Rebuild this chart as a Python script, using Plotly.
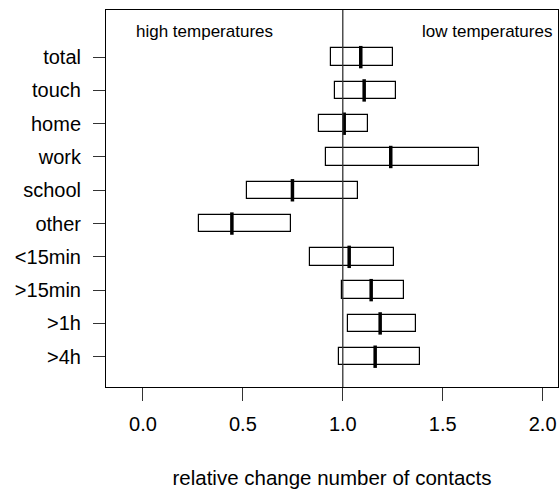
import plotly.graph_objects as go

categories = ["total", "touch", "home", "work", "school", "other",
              "<15min", ">15min", ">1h", ">4h"]
lower = [0.94, 0.962, 0.883, 0.915, 0.522, 0.278, 0.837, 0.995, 1.027, 0.983]
median = [1.09, 1.107, 1.007, 1.24, 0.748, 0.445, 1.032, 1.142, 1.187, 1.162]
upper = [1.253, 1.267, 1.128, 1.68, 1.078, 0.74, 1.258, 1.308, 1.365, 1.388]
x_ticks = [0.0, 0.5, 1.0, 1.5, 2.0]

n = len(categories)
ypos = [n - i for i in range(n)]  # total on top

FONT = "Liberation Sans, Arial, Helvetica, sans-serif"

fig = go.Figure()
fig.add_trace(go.Bar(
    y=ypos, x=[u - l for u, l in zip(upper, lower)], base=lower,
    orientation="h", width=0.52,
    marker=dict(color="white", line=dict(color="black", width=1.2)),
    hoverinfo="skip", showlegend=False,
))
fig.add_trace(go.Scatter(
    y=ypos, x=median, mode="markers",
    marker=dict(symbol="line-ns", size=16, line=dict(color="black", width=3.5)),
    showlegend=False,
))

fig.add_shape(type="line", x0=1, x1=1, xref="x", y0=0, y1=1, yref="paper",
              line=dict(color="#333333", width=1.3), layer="above")

fig.add_annotation(x=0.31, y=0.943, xref="x", yref="paper",
                   xanchor="center", yanchor="middle",
                   text="high temperatures", showarrow=False,
                   font=dict(size=17, color="black", family=FONT))
fig.add_annotation(x=1.72, y=0.943, xref="x", yref="paper",
                   xanchor="center", yanchor="middle",
                   text="low temperatures", showarrow=False,
                   font=dict(size=17, color="black", family=FONT))

fig.update_layout(
    width=560, height=489,
    margin=dict(l=106, r=2, t=10, b=102, autoexpand=False),
    plot_bgcolor="white", paper_bgcolor="white",
    font=dict(family=FONT, size=20, color="black"),
    bargap=0,
)
fig.update_xaxes(
    range=[-0.185, 2.077], tickvals=x_ticks,
    ticktext=[f"{v:.1f}" for v in x_ticks],
    ticks="outside", ticklen=13, tickwidth=1, tickcolor="#333333",
    showline=True, linecolor="black", linewidth=1, mirror=True,
    showgrid=False, zeroline=False, automargin=False,
    title=dict(text="relative change number of contacts", standoff=37,
               font=dict(size=20.5)),
    ticklabelstandoff=6,
)
fig.update_yaxes(
    range=[0.09, 11.416], tickvals=ypos, ticktext=categories,
    ticks="outside", ticklen=12, tickwidth=1, tickcolor="#333333",
    showline=True, linecolor="black", linewidth=1, mirror=True,
    showgrid=False, zeroline=False, automargin=False,
    ticklabelstandoff=8,
)

fig.write_html("out.html", config={"displayModeBar": False},
               post_script="document.body.style.margin='0';document.body.style.overflow='hidden';")
